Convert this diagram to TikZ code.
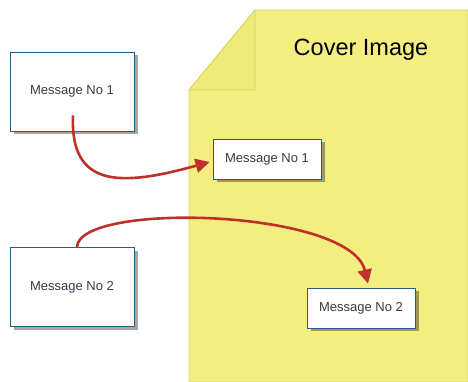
\documentclass[tikz,border=0pt]{standalone}
\usepackage{fontspec}
\setmainfont{Liberation Sans}
\usepackage{xcolor}
\usepackage{tikz}
\usetikzlibrary{arrows.meta,positioning,shadows}
\definecolor{pageyellow}{HTML}{F4EE80}
\definecolor{foldyellow}{HTML}{F0EA76}
\definecolor{pageedge}{HTML}{D6D36A}
\definecolor{boxedge}{HTML}{1F5F8C}
\definecolor{msgtext}{HTML}{3A3A48}
\definecolor{arrowred}{HTML}{C0302A}
\tikzset{
  msgbox/.style={
    rectangle, draw=boxedge, fill=white, line width=0.9pt,
    minimum width=#1, font=\fontsize{13}{15}\selectfont, text=msgtext,
    drop shadow={shadow xshift=3.5pt, shadow yshift=-3.5pt, fill=black, opacity=0.35},
    inner sep=2pt
  },
  msgbox/.default=124pt,
  flowarrow/.style={
    -{Triangle[length=14pt, width=14pt]}, line width=2.6pt, color=arrowred
  },
}
\begin{document}
\begin{tikzpicture}[x=1pt, y=1pt]
  \useasboundingbox (0,0) rectangle (468,382);
  % cover page with folded corner
  \draw[fill=pageyellow, draw=pageedge, line width=0.8pt]
    (189,0) -- (189,292) -- (255,372) -- (468,372) -- (468,0) -- cycle;
  \draw[fill=foldyellow, draw=pageedge, line width=0.8pt]
    (189,292) -- (255,372) -- (255,292) -- cycle;
  \node[font=\fontsize{23.5}{28}\selectfont] (cover) at (361,332) {Cover Image};
  % messages
  \node[msgbox, minimum height=79pt] (msgone) at (72,290.5) {Message No 1};
  \node[msgbox, minimum height=79pt, below=116pt of msgone] (msgtwo) {Message No 2};
  \node[msgbox=108pt, minimum height=40pt] (copyone) at (267,223) {Message No 1};
  \node[msgbox=108pt, minimum height=40pt] (copytwo) at (361,74) {Message No 2};
  % copies onto the cover
  \draw[flowarrow] ([xshift=1pt, yshift=-24pt]msgone.center)
    .. controls +(-3,-72) and +(-90,-25) .. ([xshift=-3pt, yshift=-3pt]copyone.west);
  \draw[flowarrow] ([xshift=5pt]msgtwo.north)
    .. controls +(0,46) and +(-18,75) .. ([xshift=7pt, yshift=4pt]copytwo.north);
\end{tikzpicture}
\end{document}
